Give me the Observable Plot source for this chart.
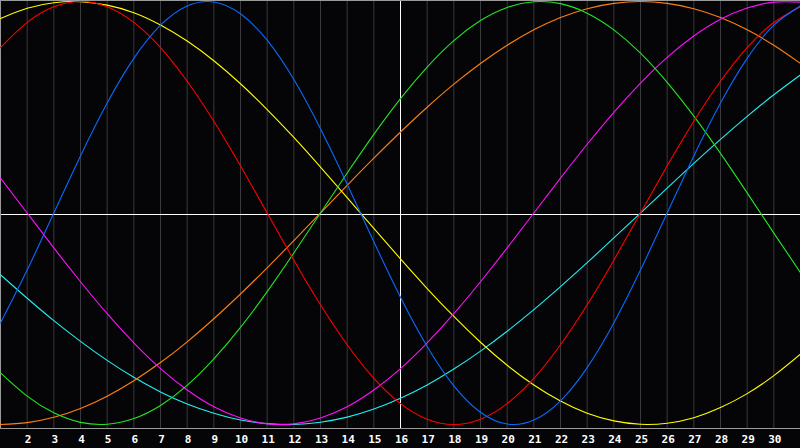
<!DOCTYPE html>
<html>
<head>
<meta charset="utf-8">
<script src="https://cdn.jsdelivr.net/npm/d3@7"></script>
<script src="https://cdn.jsdelivr.net/npm/@observablehq/plot@0.6"></script>
<style>
  html, body { margin: 0; padding: 0; background: #050508; }
  #chart svg { display: block; }
</style>
</head>
<body>
<div id="chart"></div>
<script>
// Days of the month shown (x axis), and the labelled ticks
const days = [1,2,3,4,5,6,7,8,9,10,11,12,13,14,15,16,17,18,19,20,21,22,23,24,25,26,27,28,29,30,31];
const tickDays = [2,3,4,5,6,7,8,9,10,11,12,13,14,15,16,17,18,19,20,21,22,23,24,25,26,27,28,29,30];
const centerDay = 16;

// Cycle values, one per day (-1 .. 1)
const physical = [-0.52,-0.27,0,0.27,0.52,0.731,0.888,0.979,0.998,0.942,0.817,0.631,0.398,0.136,-0.136,-0.398,-0.631,-0.817,-0.942,-0.998,-0.979,-0.888,-0.731,-0.52,-0.27,0,0.27,0.52,0.731,0.888,0.979];
const emotional = [0.782,0.901,0.975,1,0.975,0.901,0.782,0.623,0.434,0.223,0,-0.223,-0.434,-0.623,-0.782,-0.901,-0.975,-1,-0.975,-0.901,-0.782,-0.623,-0.434,-0.223,0,0.223,0.434,0.623,0.782,0.901,0.975];
const intellectual = [-0.756,-0.866,-0.945,-0.99,-0.999,-0.972,-0.91,-0.815,-0.69,-0.541,-0.372,-0.189,0,0.189,0.372,0.541,0.69,0.815,0.91,0.972,0.999,0.99,0.945,0.866,0.756,0.618,0.458,0.282,0.095,-0.095,-0.282];
const intuitive = [0.165,0,-0.165,-0.325,-0.476,-0.614,-0.736,-0.837,-0.916,-0.969,-0.997,-0.997,-0.969,-0.916,-0.837,-0.736,-0.614,-0.476,-0.325,-0.165,0,0.165,0.325,0.476,0.614,0.736,0.837,0.916,0.969,0.997,0.997];
const aesthetic = [0.92,0.968,0.994,0.999,0.983,0.947,0.889,0.813,0.72,0.611,0.489,0.357,0.217,0.073,-0.073,-0.217,-0.357,-0.489,-0.611,-0.72,-0.813,-0.889,-0.947,-0.983,-0.999,-0.994,-0.968,-0.92,-0.854,-0.769,-0.667];
const awareness = [-1,-0.991,-0.966,-0.924,-0.866,-0.793,-0.707,-0.609,-0.5,-0.383,-0.259,-0.131,0,0.131,0.259,0.383,0.5,0.609,0.707,0.793,0.866,0.924,0.966,0.991,1,0.991,0.966,0.924,0.866,0.793,0.707];
const spiritual = [-0.292,-0.403,-0.509,-0.607,-0.697,-0.777,-0.846,-0.903,-0.947,-0.979,-0.996,-1,-0.989,-0.965,-0.927,-0.876,-0.813,-0.738,-0.653,-0.559,-0.457,-0.348,-0.235,-0.118,0,0.118,0.235,0.348,0.457,0.559,0.653];

const seriesNames = ["spiritual","awareness","aesthetic","intuitive","intellectual","emotional","physical"];
const seriesValues = [spiritual, awareness, aesthetic, intuitive, intellectual, emotional, physical];
const seriesColors = ["#20f0f0","#ff8010","#ffff00","#ff10ff","#22e622","#ff0000","#0a6aff"];

const rows = seriesNames.flatMap((name, i) =>
  days.map((day, j) => ({series: name, day, value: seriesValues[i][j]}))
);

const chart = Plot.plot({
  width: 800,
  height: 448,
  marginLeft: 0,
  marginRight: 0,
  marginTop: 0,
  marginBottom: 20,
  style: {background: "#050508", color: "white", overflow: "hidden"},
  x: {domain: [days[0], days[days.length - 1]], axis: null},
  y: {domain: [-1, 1], range: [424, 1], axis: null},
  color: {domain: seriesNames, range: seriesColors},
  marks: [
    Plot.ruleX(tickDays.filter(d => d !== centerDay), {stroke: "#3a3a3e", strokeWidth: 1}),
    Plot.ruleY([0], {stroke: "white", strokeWidth: 1, dy: 1.5}),
    Plot.ruleX([centerDay], {stroke: "white", strokeWidth: 1}),
    Plot.frame({stroke: "#9a9a9a", strokeWidth: 1}),
    Plot.line(rows, {
      x: "day", y: "value", z: "series", stroke: "series",
      curve: "natural", strokeWidth: 1.1
    }),
    Plot.axisX({
      ticks: tickDays, tickSize: 0, tickPadding: 7, label: null,
      tickFormat: d => String(d), fill: "white",
      fontSize: 11, fontWeight: "bold", fontFamily: "DejaVu Sans Mono", dx: 1
    })
  ]
});

document.getElementById("chart").appendChild(chart);
</script>
</body>
</html>
